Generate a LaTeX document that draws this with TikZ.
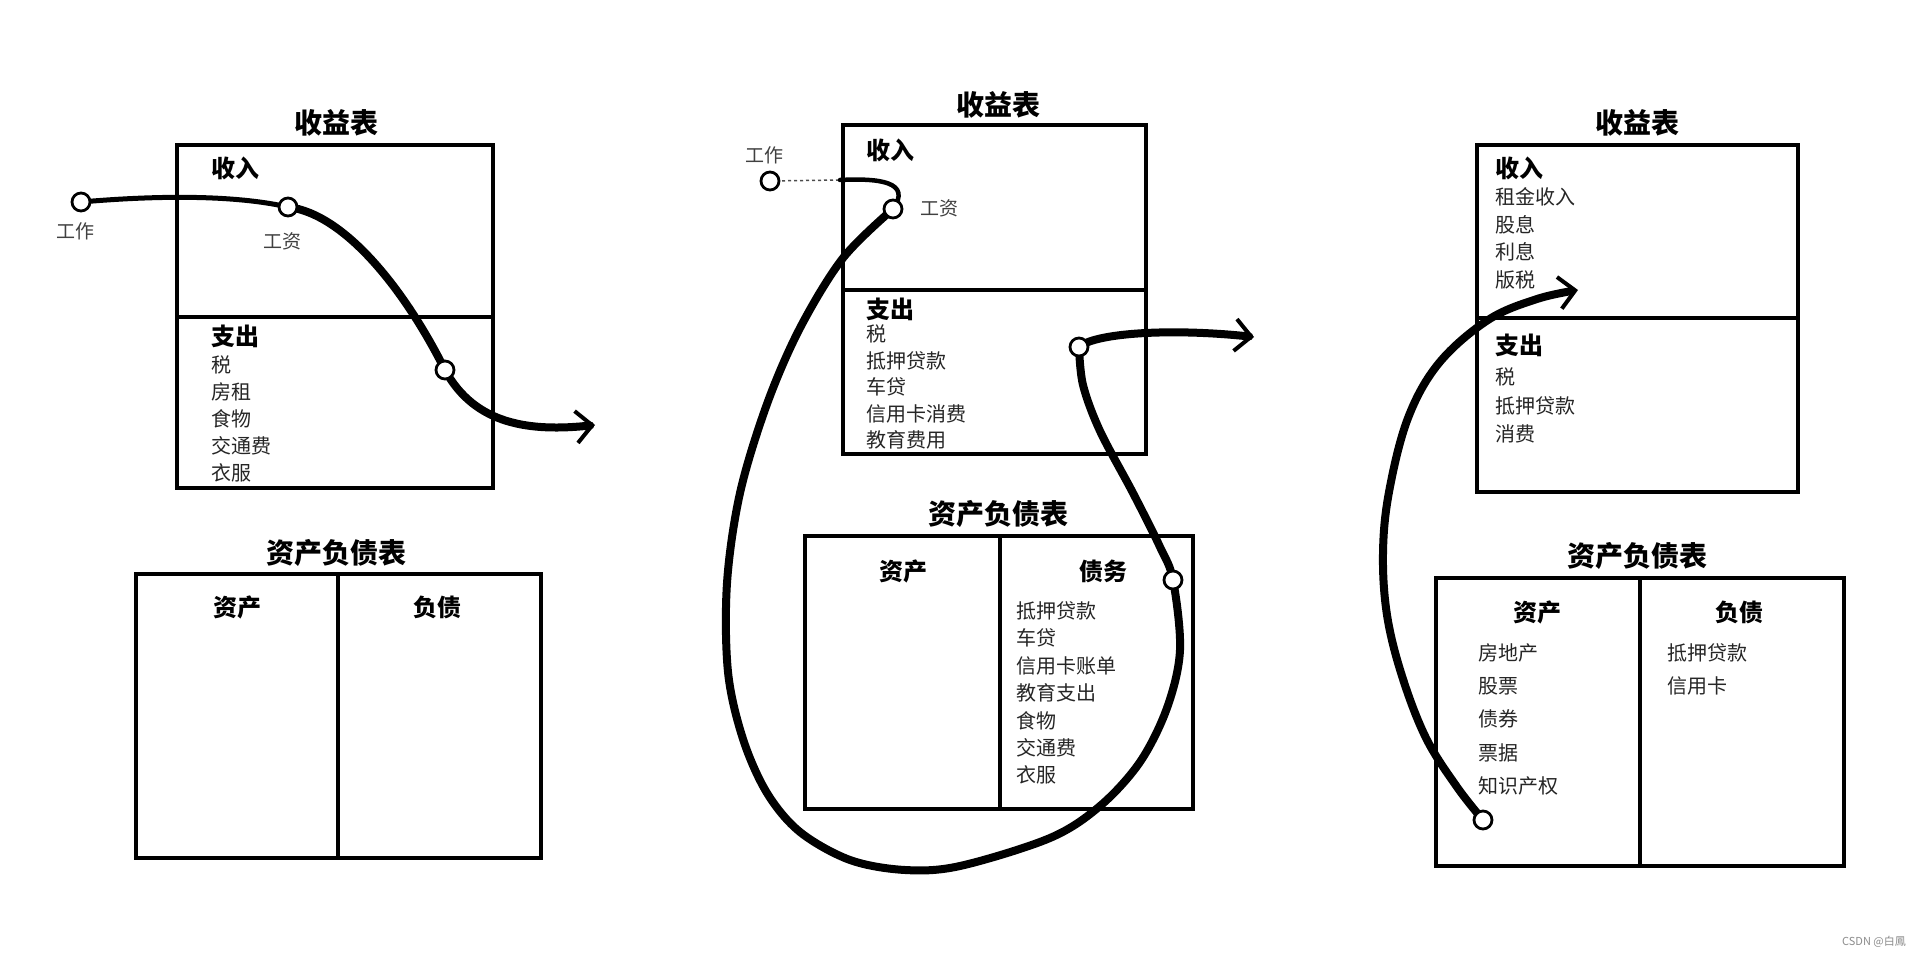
\documentclass[tikz,border=0pt]{standalone}
\usepackage{fontspec}
\usetikzlibrary{arrows.meta}
\newfontfamily\cjk{Noto Sans CJK SC}
\tikzset{
  box/.style={draw, line width=4pt, inner sep=0pt},
  rulel/.style={line width=4pt},
  ttl/.style={font=\cjk\bfseries\fontsize{28}{30}\selectfont, inner sep=0pt},
  hdr/.style={font=\cjk\bfseries\fontsize{24}{26}\selectfont, inner sep=0pt},
  itm/.style={font=\cjk\fontsize{20}{22}\selectfont, text=black!85, anchor=west, inner sep=0pt},
  lbl/.style={font=\cjk\fontsize{19}{21}\selectfont, text=black!75, inner sep=0pt},
  dot/.style={circle, draw, fill=white, line width=2.8pt, minimum size=18pt, inner sep=0pt},
  flow/.style={line width=8pt, line cap=round},
  tipb/.style={-{Straight Barb[length=16pt,width=32pt,line width=4pt]}},
}
\begin{document}
\begin{tikzpicture}[x=1pt,y=-1pt]
\useasboundingbox[fill=white] (0,0) rectangle (1928,957);

% ---------- Panel 1 ----------
\node[ttl] (t1) at (336,123) {收益表};
\node[box, minimum width=316pt, minimum height=343pt] (inc1) at (335,316.5) {};
\draw[rulel] (177,317) -- (493,317);
\node[hdr, anchor=west] (in1) at (211,168) {收入};
\node[hdr, anchor=west] (ex1) at (211,336) {支出};
\node[itm] at (211,365) {税};
\node[itm] at (211,392) {房租};
\node[itm] at (211,419) {食物};
\node[itm] at (211,446) {交通费};
\node[itm] at (211,473) {衣服};

\node[ttl] (b1t) at (336,553) {资产负债表};
\node[box, minimum width=405pt, minimum height=284pt] (bal1) at (338.5,716) {};
\draw[rulel] (338,574) -- (338,858);
\node[hdr] at (237,607) {资产};
\node[hdr] at (437,607) {负债};

\coordinate (w1) at (81,202);
\coordinate (s1) at (288,207);
\coordinate (e1) at (445,370);
\coordinate (tip1) at (595,425);
\draw[line width=5pt, line cap=round] (w1) .. controls (150,196) and (230,194) .. (s1);
\draw[flow] (s1) .. controls (345,214) and (405,290) .. (e1);
\draw[flow, tipb] (e1) .. controls (475,425) and (530,432) .. (tip1);
\node[dot] (dw1) at (w1) {};
\node[dot] (ds1) at (s1) {};
\node[dot] (de1) at (e1) {};
\node[lbl] at (75,231) {工作};
\node[lbl] at (282,241) {工资};

% ---------- Panel 2 ----------
\node[ttl] (t2) at (998,105) {收益表};
\node[box, minimum width=303pt, minimum height=329pt] (inc2) at (994.5,289.5) {};
\draw[rulel] (843,290) -- (1146,290);
\node[hdr, anchor=west] (in2) at (866,150) {收入};
\node[hdr, anchor=west] (ex2) at (866,309) {支出};
\node[itm] at (866,334) {税};
\node[itm] at (866,361) {抵押贷款};
\node[itm] at (866,387) {车贷};
\node[itm] at (866,414) {信用卡消费};
\node[itm] at (866,440) {教育费用};

\node[ttl] (b2t) at (998,514) {资产负债表};
\node[box, minimum width=388pt, minimum height=273pt] (bal2) at (999,672.5) {};
\draw[rulel] (1000,536) -- (1000,809);
\node[hdr] at (903,571) {资产};
\node[hdr] at (1103,571) {债务};
\node[itm] at (1016,611) {抵押贷款};
\node[itm] at (1016,638) {车贷};
\node[itm] at (1016,666) {信用卡账单};
\node[itm] at (1016,693) {教育支出};
\node[itm] at (1016,721) {食物};
\node[itm] at (1016,748) {交通费};
\node[itm] at (1016,775) {衣服};

\coordinate (w2) at (770,181);
\coordinate (m2) at (840,180);
\coordinate (s2) at (893,209);
\coordinate (c2b) at (1173,580);
\coordinate (c2a) at (1079,347);
\coordinate (tip2) at (1254,337);
\draw[line width=1.5pt, dashed, black!70] (w2) -- (m2);
\draw[line width=4.5pt, line cap=round] (m2) .. controls (880,178) and (912,182) .. (s2);
\draw[flow] plot[smooth, tension=0.55] coordinates {(s2) (843,258) (800,328) (767,404) (740,493) (727,583) (728,672) (743,739) (767,793) (800,832) (850,860) (905,870) (960,866) (1050,838) (1100,806) (1140,762) (1167,708) (1180,650) (c2b) (1160,547) (1133,493) (1100,431) (1083,385) (c2a)};
\draw[flow, tipb] (c2a) .. controls (1095,333) and (1170,328) .. (tip2);
\node[dot] (dw2) at (w2) {};
\node[dot] (ds2) at (s2) {};
\node[dot] (dc2a) at (c2a) {};
\node[dot] (dc2b) at (c2b) {};
\node[lbl] at (764,155) {工作};
\node[lbl] at (939,208) {工资};

% ---------- Panel 3 ----------
\node[ttl] (t3) at (1637,123) {收益表};
\node[box, minimum width=321pt, minimum height=347pt] (inc3) at (1637.5,318.5) {};
\draw[rulel] (1477,318) -- (1798,318);
\node[hdr, anchor=west] (in3) at (1495,168) {收入};
\node[itm] at (1495,197) {租金收入};
\node[itm] at (1495,225) {股息};
\node[itm] at (1495,252) {利息};
\node[itm] at (1495,280) {版税};
\node[hdr, anchor=west] (ex3) at (1495,345) {支出};
\node[itm] at (1495,377) {税};
\node[itm] at (1495,406) {抵押贷款};
\node[itm] at (1495,434) {消费};

\node[ttl] (b3t) at (1637,556) {资产负债表};
\node[box, minimum width=408pt, minimum height=288pt] (bal3) at (1640,722) {};
\draw[rulel] (1640,578) -- (1640,866);
\node[hdr] at (1537,612) {资产};
\node[hdr] at (1739,612) {负债};
\node[itm] at (1478,653) {房地产};
\node[itm] at (1478,686) {股票};
\node[itm] at (1478,719) {债券};
\node[itm] at (1478,753) {票据};
\node[itm] at (1478,786) {知识产权};
\node[itm] at (1667,653) {抵押贷款};
\node[itm] at (1667,686) {信用卡};

\coordinate (c3) at (1483,820);
\coordinate (tip3) at (1578,290);
\draw[flow, tipb] plot[smooth, tension=0.6] coordinates {(c3) (1457,787) (1426,738) (1402,676) (1387,615) (1383,553) (1389,492) (1408,418) (1439,363) (1488,320) (1537,299) (tip3)};
\node[dot] (dc3) at (c3) {};

\node[font=\cjk\fontsize{11}{12}\selectfont, text=black!45, anchor=east, inner sep=0pt] (wm) at (1906,942) {CSDN @白鳳};
\end{tikzpicture}
\end{document}
